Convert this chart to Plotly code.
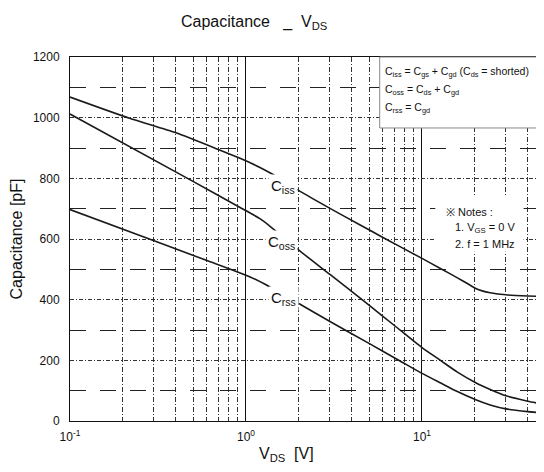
import math
import plotly.graph_objects as go

# ---- data ----
v_iss = [0.1, 0.218, 0.4, 0.69, 0.925, 1.20, 1.40, 2.03, 3.0, 4.4, 6.0, 10, 12.8, 15.9, 18, 20.2, 22, 24.4, 30, 40, 50]
c_iss = [1068, 998, 950, 896, 866, 836, 815, 757, 701, 648, 605, 536, 502, 472, 454, 437, 429, 423, 416, 412, 410]

v_oss = [0.1, 0.5, 0.925, 1.2, 1.37, 2.03, 3.0, 5.0, 7.0, 10, 12.8, 15.9, 20.2, 24.4, 30, 40, 50]
c_oss = [1012, 790, 704, 667, 642, 560, 483, 382, 314, 242, 199, 161, 126, 104, 83, 65, 54]

v_rss = [0.1, 0.303, 0.6, 1.055, 1.37, 2.03, 3.0, 5.0, 7.5, 10, 12.8, 15.9, 20.2, 24.4, 30, 40, 50]
c_rss = [697, 593, 529, 475, 442, 385, 328, 256, 198, 157, 125, 97, 70, 53, 40, 31, 26]

x_major = [0.1, 1, 10]
x_major_text = ["10<sup>-1</sup>", "10<sup>0</sup>", "10<sup>1</sup>"]
x_minor = [0.2, 0.3, 0.4, 0.5, 0.6, 0.7, 0.8, 0.9,
           2, 3, 4, 5, 6, 7, 8, 9, 20, 30, 40]

curve_labels = [("iss", 1.63, 774), ("oss", 1.60, 590), ("rss", 1.63, 405)]

formula = [
    "C<sub>iss</sub> = C<sub>gs</sub> + C<sub>gd</sub> (C<sub>ds</sub> = shorted)",
    "C<sub>oss</sub> = C<sub>ds</sub> + C<sub>gd</sub>",
    "C<sub>rss</sub> = C<sub>gd</sub>",
]
notes = ["※ Notes :", "1. V<sub>GS</sub> = 0 V", "2. f = 1 MHz"]

FONT = "Liberation Sans, Arial, sans-serif"
LINE = dict(color="#1a1a1a", width=1.6)

fig = go.Figure()
for vx, cy in [(v_iss, c_iss), (v_oss, c_oss), (v_rss, c_rss)]:
    fig.add_trace(go.Scatter(x=vx, y=cy, mode="lines",
                             line=dict(**LINE, shape="spline", smoothing=0.6),
                             showlegend=False, hoverinfo="skip"))

for sub, lx, ly in curve_labels:
    fig.add_annotation(x=math.log10(lx), y=ly, xref="x", yref="y",
                       text=f"C<sub>{sub}</sub>", showarrow=False,
                       font=dict(family=FONT, size=15, color="#111"),
                       bgcolor="white", borderpad=2)

# formula box and notes background
fig.add_shape(type="rect", xref="paper", yref="paper", x0=0.652, x1=0.996, y0=0.805, y1=1.0,
              fillcolor="white", line=dict(color="#888", width=1), layer="above")
fig.add_shape(type="rect", xref="paper", yref="paper", x0=0.769, x1=0.955, y0=0.465, y1=0.620,
              fillcolor="white", line=dict(width=0), layer="above")

for i, t in enumerate(formula):
    fig.add_annotation(x=0.658, y=0.960 - i * 0.050, xref="paper", yref="paper", xanchor="left",
                       yanchor="middle", text=t, showarrow=False,
                       font=dict(family=FONT, size=10.5, color="#111"))

notes_pos = [(0.787, 0.574), (0.806, 0.530), (0.806, 0.486)]
for t, (nx, ny) in zip(notes, notes_pos):
    fig.add_annotation(x=nx, y=ny, xref="paper", yref="paper", xanchor="left", yanchor="middle",
                       text=t, showarrow=False, font=dict(family=FONT, size=11, color="#111"))

# title and x label
fig.add_annotation(x=0.388, y=1.096, xref="paper", yref="paper", xanchor="center", yanchor="middle",
                   text="Capacitance   _  V<sub>DS</sub>", showarrow=False,
                   font=dict(family=FONT, size=16, color="#111"))
fig.add_annotation(x=0.456, y=-0.093, xref="paper", yref="paper", xanchor="center", yanchor="middle",
                   text="V<sub>DS</sub>  [V]", showarrow=False,
                   font=dict(family=FONT, size=16, color="#111"))

fig.update_layout(
    width=544, height=472,
    margin=dict(l=62, r=7, t=49, b=59, autoexpand=False),
    paper_bgcolor="white", plot_bgcolor="white",
    font=dict(family=FONT, size=12, color="#111"),
    xaxis=dict(type="log", range=[-1, math.log10(50)],
               tickmode="array", tickvals=x_major, ticktext=x_major_text,
               showgrid=True, gridcolor="#111", gridwidth=1,
               showline=True, linecolor="#111", linewidth=1, mirror=True,
               ticks="", ticklabelstandoff=5, automargin=False,
               minor=dict(tickmode="array", tickvals=x_minor, showgrid=True,
                          gridcolor="#333", gridwidth=1, griddash="5px,2px,1px,2px", ticks=""),
               zeroline=False),
    yaxis=dict(range=[0, 1200], dtick=200, tick0=0,
               showgrid=True, gridcolor="#333", gridwidth=1, griddash="4px,2px,1px,2px",
               showline=True, linecolor="#111", linewidth=1, mirror=False,
               ticks="", ticklabelstandoff=7, zeroline=False, automargin=False,
               minor=dict(dtick=100, tick0=0, showgrid=True, gridcolor="#222", gridwidth=1,
                          griddash="16px,14px", ticks=""),
               title=dict(text="Capacitance [pF]", standoff=10,
                          font=dict(family=FONT, size=16, color="#111"))),
)

fig.write_html("out.html")
